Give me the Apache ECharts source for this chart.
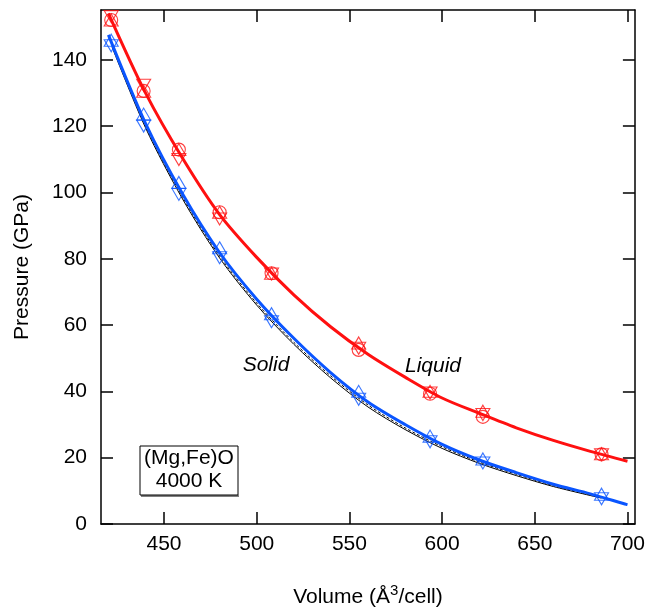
<!DOCTYPE html>
<html>
    <head>
        <meta charset="UTF-8">
        <title>(Mg,Fe)O 4000 K</title>
        <script src="https://cdn.jsdelivr.net/npm/echarts@6.0.0/dist/echarts.min.js"></script>
        <style>
            html, body {
                margin: 0;
                padding: 0;
                background: #fff;
            }
            #chart {
                width: 648px;
                height: 613px;
            }
        </style>
    </head>
    <body>
        <div id="chart"></div>
        <script>
            // marker volumes (A^3/cell)
            const volumes = [421.5, 439, 458, 480, 508, 555, 593.5, 622, 686];

            // liquid (red) points
            const liqCircle = [152.0, 130.6, 112.9, 94.0, 75.6, 52.5, 39.3, 32.3, 21.0];
            const liqUp = [152.0, 130.5, 112.9, 94.0, 75.6, 54.6, 40.0, 34.0, 21.2];
            const liqDown = [153.0, 132.3, 109.9, 92.0, 75.4, 53.0, 39.5, 33.0, 20.9];

            // solid (blue) points
            const solUp = [145.9, 123.6, 103.0, 83.3, 63.4, 40.0, 26.5, 19.6, 9.0];
            const solDown = [144.2, 120.0, 99.4, 80.3, 61.0, 37.6, 24.8, 18.4, 7.6];

            // fitted curves
            const fitVol = [420, 440, 460, 480, 500, 520, 540, 560, 580, 600, 620, 640, 660, 680, 700];
            const liqFit = [154, 130, 110.3, 93.3, 80.4, 69.1, 59.4, 51.2, 44.3, 38.0, 33.4, 29.0, 25.2, 21.9, 18.9];
            const solFit = [147.5, 120.8, 99.5, 81.8, 67.8, 56.0, 45.6, 36.8, 30.0, 24.0, 19.3, 15.5, 12.0, 9.1, 5.8];

            const refVol = [422, 440, 460, 480, 500, 520, 540, 560, 580, 600, 620, 640, 660, 686];
            const refSolid = [143.8, 119.5, 98.0, 80.2, 66.0, 54.2, 44.0, 35.3, 28.5, 22.8, 18.3, 14.6, 11.3, 7.8];
            const refDashed = [144.2, 120.0, 98.6, 80.8, 66.6, 54.8, 44.6, 35.9, 29.0, 23.3, 18.7, 15.0, 11.6, 8.0];

            const xTicks = [450, 500, 550, 600, 650, 700];
            const yTicks = [0, 20, 40, 60, 80, 100, 120, 140];

            const font = 'Liberation Sans, Arial, Helvetica, sans-serif';
            const red = '#ff1010';
            const blue = '#0a55ff';

            function pairs(xs, ys) {
                return xs.map(function (x, i) { return [x, ys[i]]; });
            }

            function markers(ys, color, symbol, rotate) {
                return {
                    type: 'scatter',
                    data: pairs(volumes, ys),
                    symbol: symbol,
                    symbolSize: symbol === 'circle' ? 13 : [14, 12],
                    symbolRotate: rotate || 0,
                    itemStyle: {
                        color: 'rgba(255,255,255,0)',
                        borderColor: color,
                        borderWidth: 1.1
                    },
                    z: 5
                };
            }

            function curve(xs, ys, color, width, dash) {
                return {
                    type: 'line',
                    data: pairs(xs, ys),
                    smooth: 0.3,
                    showSymbol: false,
                    lineStyle: {
                        color: color,
                        width: width,
                        type: dash ? [3, 2] : 'solid'
                    },
                    z: 3
                };
            }

            const chart = echarts.init(document.getElementById('chart'));

            const axisCommon = {
                type: 'value',
                axisLine: { show: true, onZero: false, lineStyle: { color: '#000', width: 1.5 } },
                axisTick: { show: true, inside: true, length: 12, lineStyle: { color: '#000', width: 1.5 } },
                splitLine: { show: false }
            };

            chart.setOption({
                animation: false,
                grid: { left: 101, right: 12, top: 10, bottom: 83 },
                xAxis: [
                    Object.assign({}, axisCommon, {
                        min: 416,
                        max: 704,
                        position: 'bottom',
                        name: 'Volume (Å{sup|3}/cell)',
                        nameLocation: 'middle',
                        nameGap: 59,
                        nameTextStyle: {
                            color: '#000', fontSize: 21, fontFamily: font,
                            rich: { sup: { fontSize: 15, verticalAlign: 'top', padding: [0, 0, 14, 0], fontFamily: font, color: '#000' } }
                        },
                        axisTick: Object.assign({}, axisCommon.axisTick, { customValues: xTicks }),
                        axisLabel: { customValues: xTicks, color: '#000', fontSize: 21, fontFamily: font, margin: 10 }
                    }),
                    Object.assign({}, axisCommon, {
                        min: 416,
                        max: 704,
                        position: 'top',
                        axisTick: Object.assign({}, axisCommon.axisTick, { customValues: xTicks }),
                        axisLabel: { show: false }
                    })
                ],
                yAxis: [
                    Object.assign({}, axisCommon, {
                        min: 0,
                        max: 155,
                        position: 'left',
                        name: 'Pressure (GPa)',
                        nameLocation: 'middle',
                        nameGap: 68,
                        nameTextStyle: { color: '#000', fontSize: 21, fontFamily: font },
                        axisTick: Object.assign({}, axisCommon.axisTick, { customValues: yTicks }),
                        axisLabel: { customValues: yTicks, color: '#000', fontSize: 21, fontFamily: font, margin: 14 }
                    }),
                    Object.assign({}, axisCommon, {
                        min: 0,
                        max: 155,
                        position: 'right',
                        axisTick: Object.assign({}, axisCommon.axisTick, { customValues: yTicks }),
                        axisLabel: { show: false }
                    })
                ],
                series: [
                    curve(refVol, refSolid, '#000', 1, false),
                    curve(refVol, refDashed, '#000', 1, true),
                    curve(fitVol, solFit, blue, 3, false),
                    curve(fitVol, liqFit, red, 3, false),
                    markers(liqCircle, red, 'circle'),
                    markers(liqUp, red, 'triangle'),
                    markers(liqDown, red, 'triangle', 180),
                    markers(solUp, blue, 'triangle'),
                    markers(solDown, blue, 'triangle', 180)
                ],
                graphic: [
                    {
                        type: 'text', x: 266, y: 365,
                        style: { text: 'Solid', align: 'center', verticalAlign: 'middle', fontSize: 21, fontStyle: 'italic', fontFamily: font, fill: '#000' }
                    },
                    {
                        type: 'text', x: 433, y: 366,
                        style: { text: 'Liquid', align: 'center', verticalAlign: 'middle', fontSize: 21, fontStyle: 'italic', fontFamily: font, fill: '#000' }
                    },
                    {
                        type: 'rect', x: 140, y: 446,
                        shape: { width: 98, height: 49 },
                        style: { fill: '#fff', stroke: '#000', lineWidth: 1 }
                    },
                    {
                        type: 'line', shape: { x1: 141, y1: 496, x2: 239, y2: 496 },
                        style: { stroke: '#000', lineWidth: 1 }
                    },
                    {
                        type: 'text', x: 189, y: 458,
                        style: { text: '(Mg,Fe)O', align: 'center', verticalAlign: 'middle', fontSize: 21, fontFamily: font, fill: '#000' }
                    },
                    {
                        type: 'text', x: 189, y: 481,
                        style: { text: '4000 K', align: 'center', verticalAlign: 'middle', fontSize: 21, fontFamily: font, fill: '#000' }
                    }
                ]
            });
        </script>
    </body>
</html>
